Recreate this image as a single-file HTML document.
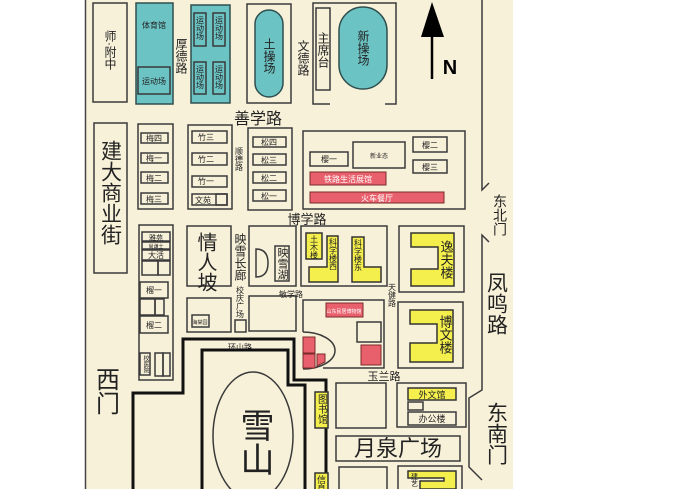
<!DOCTYPE html>
<html><head><meta charset="utf-8">
<style>
html,body{margin:0;padding:0;background:#fff;}
svg{display:block;}
text{font-family:"Liberation Sans","Noto Sans CJK SC",sans-serif;fill:#222;}
.v{writing-mode:tb;}
.b{fill:none;stroke:#3a3a3a;stroke-width:1.5;}
.bf{fill:#f8f1da;stroke:#3a3a3a;stroke-width:1.5;}
.t{fill:#6cc3c3;stroke:#2f4f4f;stroke-width:1.5;}
.y{fill:#f4ef4c;stroke:#333;stroke-width:1.5;}
.r{fill:#e8606c;stroke:#7a2a2a;stroke-width:1;}
.rd{fill:none;stroke:#111;stroke-width:3;}
</style></head><body>
<svg width="680" height="489" viewBox="0 0 680 489" xmlns="http://www.w3.org/2000/svg">
<rect x="85" y="0" width="428" height="489" fill="#f8f1da"/>
<line x1="85.5" y1="0" x2="85.5" y2="489" stroke="#444" stroke-width="1.5"/>

<!-- top row -->
<rect class="b" x="93" y="3" width="34" height="99"/>
<text class="v" x="110" y="30" font-size="12">师·附中</text>
<rect class="t" x="136" y="3" width="37" height="101"/>
<text x="154" y="28" font-size="8" text-anchor="middle">体育馆</text>
<rect class="b" x="138" y="67" width="32" height="27"/>
<text x="154" y="84" font-size="8" text-anchor="middle">运动场</text>
<text class="v" x="181" y="38" font-size="12">厚德路</text>
<rect class="t" x="191" y="5" width="39" height="98"/>
<rect class="b" x="194" y="13" width="12" height="33"/><rect class="b" x="213" y="13" width="12" height="33"/>
<rect class="b" x="194" y="62" width="12" height="32"/><rect class="b" x="213" y="62" width="12" height="32"/>
<text class="v" x="200" y="16" font-size="8">运动场</text><text class="v" x="219" y="16" font-size="8">运动场</text>
<text class="v" x="200" y="65" font-size="8">运动场</text><text class="v" x="219" y="65" font-size="8">运动场</text>
<rect class="b" x="247" y="4" width="44" height="99"/>
<rect class="t" x="255" y="10" width="28" height="87" rx="14"/>
<text class="v" x="269" y="38" font-size="12">土操场</text>
<text class="v" x="303" y="40" font-size="12">文德路</text>
<path class="b" d="M330 104 H313 V3 H396 V104 H385"/>
<rect class="b" x="316" y="8" width="14" height="82"/>
<text class="v" x="323" y="32" font-size="12">主席台</text>
<rect class="t" x="339" y="7" width="48" height="82" rx="24"/>
<text class="v" x="363" y="30" font-size="12">新操场</text>
<line x1="432" y1="30" x2="432" y2="79" stroke="#000" stroke-width="2.5"/>
<polygon points="432,2 421,37 444,37" fill="#000"/>
<text x="450" y="74" font-size="20" font-weight="bold" text-anchor="middle" style="fill:#000">N</text>

<!-- right edge / gates -->
<path class="b" d="M482 0 V190 L489 183" stroke-width="2"/>
<path class="b" d="M489 242 L482 235 V390 L469 398 V467 L482 480" stroke-width="2"/>
<text class="v" x="500" y="194" font-size="14">东北门</text>
<text class="v" x="496" y="272" font-size="21">凤鸣路</text>
<text class="v" x="496" y="402" font-size="21">东南门</text>

<text x="258" y="124" font-size="16" text-anchor="middle">善学路</text>

<!-- second row -->
<rect class="b" x="94" y="123" width="33" height="150"/>
<text class="v" x="110" y="140" font-size="21">建大商业街</text>
<rect class="b" x="138" y="124" width="35" height="85"/>
<rect class="b" x="141" y="133" width="27" height="10"/><text x="154" y="141" font-size="8" text-anchor="middle">梅四</text>
<rect class="b" x="141" y="153" width="27" height="10"/><text x="154" y="161" font-size="8" text-anchor="middle">梅一</text>
<rect class="b" x="141" y="172" width="27" height="11"/><text x="154" y="181" font-size="8" text-anchor="middle">梅二</text>
<rect class="b" x="141" y="193" width="27" height="11"/><text x="154" y="202" font-size="8" text-anchor="middle">梅三</text>
<rect class="b" x="188" y="125" width="44" height="84"/>
<rect class="b" x="192" y="131" width="35" height="12"/><text x="206" y="140" font-size="8" text-anchor="middle">竹三</text>
<rect class="b" x="192" y="153" width="35" height="12"/><text x="206" y="162" font-size="8" text-anchor="middle">竹二</text>
<rect class="b" x="192" y="176" width="35" height="11"/><text x="206" y="184" font-size="8" text-anchor="middle">竹一</text>
<rect class="b" x="192" y="194" width="35" height="11"/><rect class="b" x="216" y="194" width="11" height="11"/><text x="203" y="203" font-size="8" text-anchor="middle">文苑</text>
<text class="v" x="239" y="147" font-size="8">顺德路</text>
<rect class="b" x="248" y="128" width="44" height="82"/>
<rect class="b" x="253" y="137" width="33" height="10"/><text x="269" y="145" font-size="8" text-anchor="middle">松四</text>
<rect class="b" x="253" y="154" width="33" height="11"/><text x="269" y="163" font-size="8" text-anchor="middle">松三</text>
<rect class="b" x="253" y="172" width="33" height="11"/><text x="269" y="181" font-size="8" text-anchor="middle">松二</text>
<rect class="b" x="253" y="190" width="33" height="11"/><text x="269" y="199" font-size="8" text-anchor="middle">松一</text>
<rect class="b" x="303" y="131" width="162" height="78"/>
<rect class="b" x="310" y="152" width="38" height="14"/><text x="329" y="162" font-size="8" text-anchor="middle">樱一</text>
<rect class="b" x="353" y="142" width="52" height="26"/><text x="379" y="158" font-size="6" text-anchor="middle">新业态</text>
<rect class="b" x="413" y="137" width="34" height="15"/><text x="430" y="148" font-size="8" text-anchor="middle">樱二</text>
<rect class="b" x="413" y="160" width="34" height="13"/><text x="430" y="170" font-size="8" text-anchor="middle">樱三</text>
<rect class="r" x="310" y="172" width="76" height="13"/><text x="348" y="182" font-size="8" text-anchor="middle" style="fill:#fff">铁路生活展馆</text>
<rect class="r" x="310" y="192" width="134" height="11"/><text x="377" y="201" font-size="8" text-anchor="middle" style="fill:#fff">火车餐厅</text>
<text x="307" y="224" font-size="13" text-anchor="middle">博学路</text>

<!-- third row -->
<rect class="b" x="139" y="225" width="34" height="155"/>
<rect class="b" x="142" y="232" width="28" height="9"/><text x="156" y="240" font-size="7" text-anchor="middle">雅苑</text>
<rect class="b" x="142" y="242" width="28" height="7"/><text x="156" y="248" font-size="5" text-anchor="middle">尚谦士</text>
<rect class="b" x="142" y="250" width="28" height="10"/><text x="156" y="258" font-size="8" text-anchor="middle">大活</text>
<rect class="b" x="142" y="261" width="16" height="14"/><rect class="b" x="158" y="261" width="12" height="14"/>
<rect class="b" x="140" y="282" width="28" height="16"/><text x="154" y="293" font-size="8" text-anchor="middle">榴一</text>
<rect class="b" x="140" y="299" width="15" height="16"/><rect class="b" x="155" y="299" width="9" height="16"/>
<rect class="b" x="140" y="316" width="28" height="17"/><text x="154" y="328" font-size="8" text-anchor="middle">榴二</text>
<rect class="b" x="140" y="353" width="10" height="22"/><text class="v" x="145" y="355" font-size="6">校医院</text>
<rect class="b" x="155" y="353" width="8" height="23"/><rect class="b" x="163" y="353" width="7" height="23"/>
<rect class="b" x="187" y="226" width="44" height="60"/>
<text class="v" x="205" y="232" font-size="20">情人坡</text>
<text class="v" x="240" y="233" font-size="12">映雪长廊</text>
<rect class="b" x="249" y="226" width="47" height="60"/>
<path class="b" d="M256 249 V277 Q268 277 268 263 Q268 249 256 249 Z"/>
<rect class="b" x="275" y="246" width="14" height="35"/>
<text class="v" x="282" y="247" font-size="11">映雪湖</text>
<text class="v" x="240" y="286" font-size="8">校庆广场</text>
<rect class="b" x="235" y="320" width="11" height="12"/>
<rect class="b" x="187" y="298" width="44" height="34"/>
<rect class="b" x="192" y="315" width="17" height="12"/><text x="200" y="324" font-size="5" text-anchor="middle">海棠园</text>
<rect class="b" x="249" y="296" width="47" height="35"/>
<text x="291" y="297" font-size="8" text-anchor="middle">敏学路</text>
<rect class="b" x="301" y="226" width="86" height="60"/>
<rect class="y" x="306" y="233" width="16" height="26"/><text class="v" x="314" y="235" font-size="8">土木楼</text>
<path class="y" d="M327 236 H338 V282 H309 V267 H327 Z"/><text class="v" x="333" y="238" font-size="8">科学楼西</text>
<path class="y" d="M352 237 H364 V267 H381 V282 H352 Z"/><text class="v" x="358" y="239" font-size="8">科学楼东</text>
<rect class="b" x="399" y="226" width="65" height="66"/>
<path class="y" d="M411 233 H454 V286 H411 V269 H438 V247 H411 Z" stroke-width="2"/>
<text class="v" x="446" y="240" font-size="13">逸夫楼</text>
<text class="v" x="392" y="283" font-size="8">天健路</text>
<path class="b" d="M303 332 V300 H384 V368 H323"/>
<path class="b" d="M303 332 A32 18.5 0 0 1 303 369" stroke-width="2"/>
<rect class="r" x="326" y="303" width="37" height="14"/><text x="344" y="313" font-size="5" text-anchor="middle" style="fill:#fff">山东民居博物馆</text>
<rect class="b" x="357" y="322" width="24" height="20"/>
<rect class="r" x="361" y="345" width="20" height="20"/>
<rect class="r" x="303" y="337" width="12" height="16"/><rect class="r" x="303" y="354" width="12" height="14"/><path class="r" d="M317 354 H325 V362 L317 366 Z"/>
<rect class="b" x="398" y="302" width="65" height="66"/>
<path class="y" d="M410 310 H453 V362 H410 V343 H437 V324 H410 Z" stroke-width="2"/>
<text class="v" x="445" y="315" font-size="13">博文楼</text>
<text x="384" y="380" font-size="11" text-anchor="middle">玉兰路</text>
<text x="240" y="350" font-size="8" text-anchor="middle">环山路</text>

<!-- roads -->
<path class="rd" d="M133 489 V393 H183 V339 H294 V380 H326 V489"/>
<path class="rd" d="M202 489 V350 H288 V385 H305 V489"/>
<ellipse class="b" cx="253" cy="436" rx="40" ry="64" stroke-width="2" stroke="#111"/>
<text class="v" x="254" y="408" font-size="34">雪山</text>
<text class="v" x="105" y="367" font-size="24">西门</text>

<!-- bottom right -->
<rect class="y" x="315" y="392" width="13" height="36"/><text class="v" x="321" y="394" font-size="10">图书馆</text>
<rect class="y" x="315" y="473" width="13" height="20"/><text class="v" x="321" y="475" font-size="9">信息</text>
<rect class="b" x="336" y="383" width="50" height="45" stroke-width="2"/>
<rect class="b" x="397" y="383" width="69" height="44" stroke-width="2"/>
<rect class="y" x="408" y="388" width="48" height="12"/><text x="432" y="398" font-size="9" text-anchor="middle">外文馆</text>
<rect class="b" x="408" y="402" width="15" height="8"/>
<rect class="b" x="408" y="412" width="48" height="13"/><text x="432" y="422" font-size="9" text-anchor="middle">办公楼</text>
<rect class="b" x="336" y="436" width="124" height="25" stroke-width="2"/>
<text x="398" y="456" font-size="22" text-anchor="middle">月泉广场</text>
<rect class="b" x="339" y="467" width="48" height="30" stroke-width="2"/>
<rect class="b" x="398" y="466" width="64" height="30" stroke-width="2"/>
<path class="y" d="M408 471 H456 V489 H420 V481 H444 V478 H408 Z"/>
<text class="v" x="414" y="473" font-size="7">建艺</text>
</svg>
</body></html>
